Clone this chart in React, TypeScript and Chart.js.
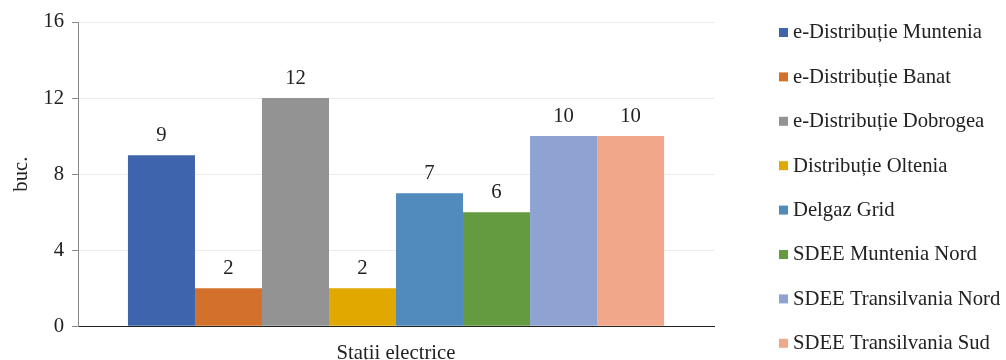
import React, { useEffect, useRef } from "react";
import { Chart, registerables } from "chart.js";

Chart.register(...registerables);

const categories = ["Stații electrice"];
const seriesNames = [
  "e-Distribuție Muntenia",
  "e-Distribuție Banat",
  "e-Distribuție Dobrogea",
  "Distribuție Oltenia",
  "Delgaz Grid",
  "SDEE Muntenia Nord",
  "SDEE Transilvania Nord",
  "SDEE Transilvania Sud",
];
const seriesValues = [9, 2, 12, 2, 7, 6, 10, 10];
const seriesColors = [
  "#3E64AD",
  "#D2702C",
  "#939393",
  "#E1A900",
  "#518ABC",
  "#649A40",
  "#8FA3D3",
  "#F0A78A",
];
const yTicks = [0, 4, 8, 12, 16];
const yTitle = "buc.";

const FONT = '"Liberation Serif", "Times New Roman", serif';
const FS = 20.7;

const valueLabels = {
  id: "valueLabels",
  afterDatasetsDraw(chart: any) {
    const ctx = chart.ctx;
    ctx.save();
    ctx.font = `${FS}px ${FONT}`;
    ctx.fillStyle = "#222";
    ctx.textAlign = "center";
    ctx.textBaseline = "middle";
    chart.data.datasets.forEach((ds: any, i: number) => {
      const meta = chart.getDatasetMeta(i);
      meta.data.forEach((bar: any, j: number) => {
        ctx.fillText(String(ds.data[j]), bar.x, bar.y - 20);
      });
    });
    ctx.restore();
  },
};

const sideLegend = {
  id: "sideLegend",
  afterDraw(chart: any) {
    const ctx = chart.ctx;
    ctx.save();
    ctx.font = `${FS}px ${FONT}`;
    ctx.textBaseline = "middle";
    ctx.textAlign = "left";
    const x0 = 779;
    const y0 = 32;
    const step = 44.4;
    chart.data.datasets.forEach((ds: any, i: number) => {
      const y = y0 + i * step;
      ctx.fillStyle = ds.backgroundColor;
      ctx.fillRect(x0, y - 4, 9, 9);
      ctx.fillStyle = "#222";
      ctx.fillText(ds.label, x0 + 14, y + 1);
    });
    ctx.restore();
  },
};

export default function App() {
  const ref = useRef<HTMLCanvasElement>(null);
  useEffect(() => {
    if (!ref.current) return;
    const chart = new Chart(ref.current, {
      type: "bar",
      data: {
        labels: categories,
        datasets: seriesNames.map((name, i) => ({
          label: name,
          data: [seriesValues[i]],
          backgroundColor: seriesColors[i],
          borderWidth: 0,
          categoryPercentage: 0.843,
          barPercentage: 1,
        })),
      },
      options: {
        animation: false,
        responsive: false,
        maintainAspectRatio: false,
        layout: { padding: { left: 9.5, right: 292, top: 22, bottom: -21 } },
        plugins: {
          legend: { display: false },
          tooltip: { enabled: false },
        },
        scales: {
          x: {
            grid: { display: false, drawTicks: false },
            border: { display: true, color: "#222", width: 1 },
            ticks: {
              color: "#222",
              font: { family: FONT, size: FS, lineHeight: 1 },
              padding: 17,
            },
          },
          y: {
            min: 0,
            max: 16,
            afterBuildTicks: (axis: any) => {
              axis.ticks = yTicks.map((v) => ({ value: v }));
            },
            grid: {
              color: "#EBEBEB",
              tickColor: "#888",
              tickLength: 6,
              drawTicks: true,
            },
            border: { display: true, color: "#888", width: 1 },
            ticks: {
              color: "#222",
              font: { family: FONT, size: FS },
              padding: 8,
            },
            title: {
              display: true,
              text: yTitle,
              color: "#222",
              font: { family: FONT, size: FS },
              padding: { top: 0, bottom: 1 },
            },
          },
        },
      },
      plugins: [valueLabels, sideLegend],
    });
    return () => chart.destroy();
  }, []);
  return (
    <div style={{ position: "fixed", left: 0, top: 0, width: 1006, height: 360, background: "#fff" }}>
      <canvas ref={ref} width={1006} height={360} style={{ width: 1006, height: 360 }} />
    </div>
  );
}
